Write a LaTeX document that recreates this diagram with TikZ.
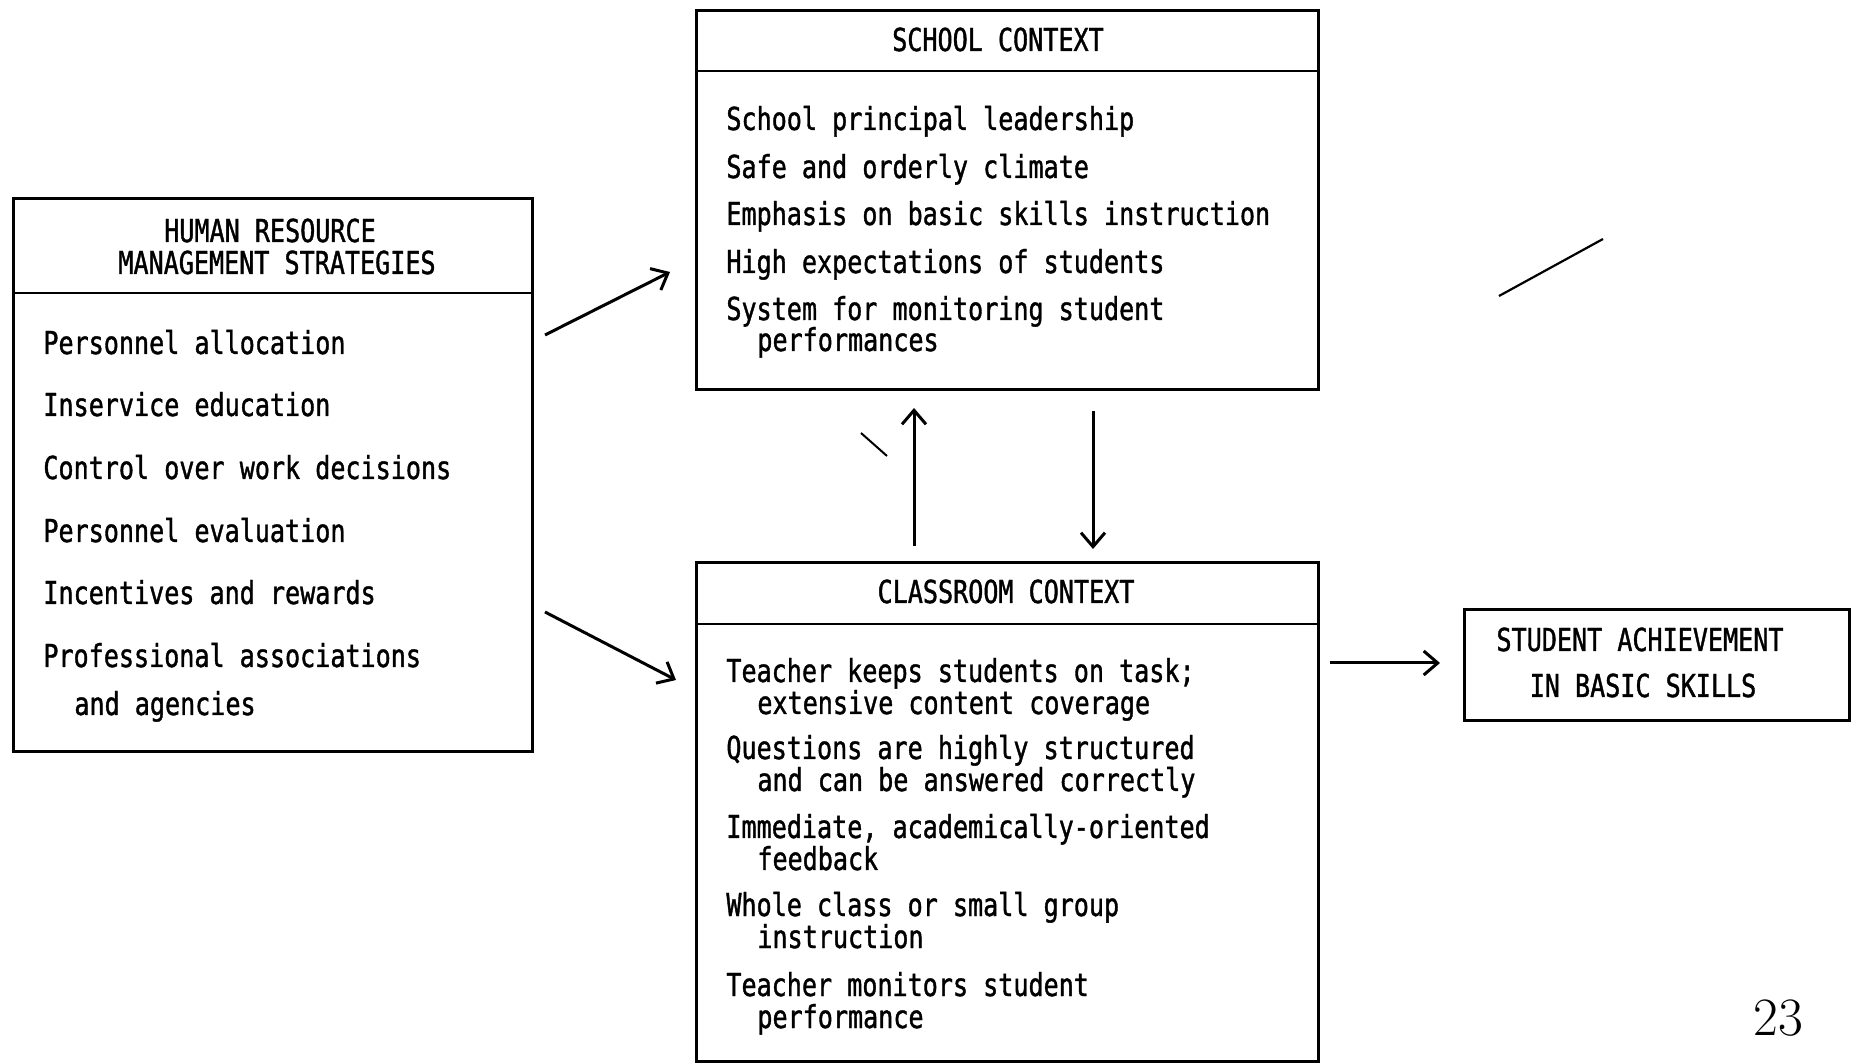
\documentclass[tikz,border=0pt]{standalone}
\usepackage{fontspec}
\newfontfamily\typer[FakeStretch=0.794,FakeBold=1.2]{DejaVu Sans Mono}
\usetikzlibrary{positioning, arrows.meta}

\begin{document}
\begin{tikzpicture}[x=0.5pt, y=-0.5pt, >={Straight Barb[length=7pt,width=12pt]},
                    box/.style={rectangle, draw, line width=1.6pt, anchor=north west, inner sep=0pt},
                    rule/.style={line width=1.2pt},
                    flow/.style={->, line width=1.5pt},
                    head/.style={anchor=base, inner sep=0pt, font=\typer\fontsize{15.8}{16}\selectfont},
                    item/.style={anchor=base west, inner sep=0pt, font=\typer\fontsize{15.8}{16}\selectfont}]

  \useasboundingbox (0,0) rectangle (1854,1063);

  % the four boxes
  \node[box, minimum width=259.5pt, minimum height=276.5pt] (hrm)       at (12,197)   {};
  \node[box, minimum width=311pt,   minimum height=189.5pt] (school)    at (695,9)    {};
  \node[box, minimum width=311pt,   minimum height=249.5pt] (classroom) at (695,561)  {};
  \node[box, minimum width=192.5pt, minimum height=55.5pt]  (student)   at (1463,608) {};

  \draw[rule] ([yshift=-48pt]hrm.north west)         -- ([yshift=-48pt]hrm.north east);
  \draw[rule] ([yshift=-31pt]school.north west)      -- ([yshift=-31pt]school.north east);
  \draw[rule] ([yshift=-31.5pt]classroom.north west) -- ([yshift=-31.5pt]classroom.north east);

  % headings
  \node[head] (hrmtitle)   at (270,242)  {HUMAN RESOURCE};
  \node[head] (hrmtitleb)  at (277,274)  {MANAGEMENT STRATEGIES};
  \node[head] (schtitle)   at (998,51)   {SCHOOL CONTEXT};
  \node[head] (clstitle)   at (1006,603) {CLASSROOM CONTEXT};
  \node[head] (achieve)    at (1640,651) {STUDENT ACHIEVEMENT};
  \node[head] (achieveb)   at (1643,697) {IN BASIC SKILLS};

  % human resource strategies
  \node[item] (h1)  at (43,354) {Personnel allocation};
  \node[item] (h2)  at (43,416) {Inservice education};
  \node[item] (h3)  at (43,479) {Control over work decisions};
  \node[item] (h4)  at (43,542) {Personnel evaluation};
  \node[item] (h5)  at (43,604) {Incentives and rewards};
  \node[item] (h6)  at (43,667) {Professional associations};
  \node[item] (h6b) at (74,715) {and agencies};

  % school context
  \node[item] (s1)  at (726,130) {School principal leadership};
  \node[item] (s2)  at (726,178) {Safe and orderly climate};
  \node[item] (s3)  at (726,225) {Emphasis on basic skills instruction};
  \node[item] (s4)  at (726,273) {High expectations of students};
  \node[item] (s5)  at (726,320) {System for monitoring student};
  \node[item] (s5b) at (757,351) {performances};

  % classroom context
  \node[item] (c1)  at (726,682)  {Teacher keeps students on task;};
  \node[item] (c1b) at (757,714)  {extensive content coverage};
  \node[item] (c2)  at (726,759)  {Questions are highly structured};
  \node[item] (c2b) at (757,791)  {and can be answered correctly};
  \node[item] (c3)  at (726,838)  {Immediate, academically-oriented};
  \node[item] (c3b) at (757,870)  {feedback};
  \node[item] (c4)  at (726,916)  {Whole class or small group};
  \node[item] (c4b) at (757,948)  {instruction};
  \node[item] (c5)  at (726,996)  {Teacher monitors student};
  \node[item] (c5b) at (757,1028) {performance};

  \node[anchor=base, inner sep=0pt, font=\fontsize{27}{27}\selectfont] (page) at (1778,1035) {23};

  % arrow ends
  \coordinate (hrmup)   at (545,335);
  \coordinate (schin)   at (670,272);
  \coordinate (hrmdown) at (545,612);
  \coordinate (clsin)   at (676,680);
  \coordinate (upfrom)  at (914,546);
  \coordinate (upto)    at (914,408);
  \coordinate (dnfrom)  at (1093,411);
  \coordinate (dnto)    at (1093,549);
  \coordinate (outfrom) at (1330,663);
  \coordinate (outto)   at (1440,663);

  \draw[flow] (hrmup)   -- (schin);
  \draw[flow] (hrmdown) -- (clsin);
  \draw[flow] (upfrom)  -- (upto);
  \draw[flow] (dnfrom)  -- (dnto);
  \draw[flow] (outfrom) -- (outto);

  % stray strokes on the page
  \draw[line width=1.1pt] (1499,296) -- (1603,239);
  \draw[line width=1pt]   (861,433)  -- (887,456);

\end{tikzpicture}
\end{document}
